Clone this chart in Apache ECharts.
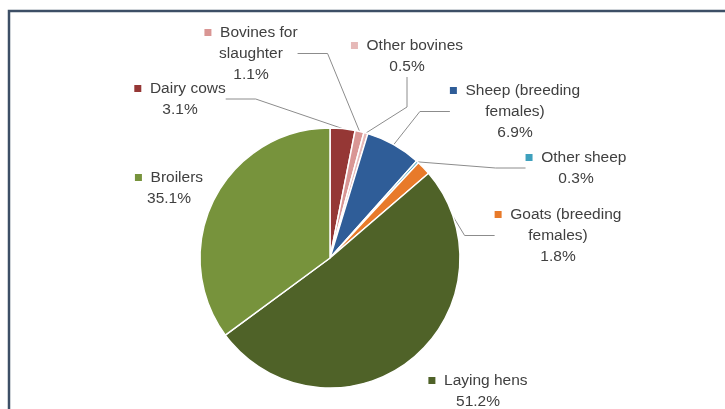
<!DOCTYPE html>
<html>
<head>
<meta charset="utf-8">
<script src="https://cdn.jsdelivr.net/npm/echarts@6/dist/echarts.min.js"></script>
<style>
html,body{margin:0;padding:0;background:#fff;}
#chart{width:725px;height:409px;}
</style>
</head>
<body>
<div id="chart"></div>
<script>
const categories = ['Dairy cows', 'Bovines for\nslaughter', 'Other bovines', 'Sheep (breeding\nfemales)', 'Other sheep', 'Goats (breeding\nfemales)', 'Laying hens', 'Broilers'];
const values = [3.1, 1.1, 0.5, 6.9, 0.3, 1.8, 51.2, 35.1];
const colors = ['#953735', '#d99694', '#e6b9b8', '#2f5d98', '#3ea0bd', '#e87a2a', '#4f6228', '#77933c'];
const showLines = [true, true, true, true, true, true, false, false];
// label anchor positions (center of label block, top)
const labelPos = [[180, 78], [251, 22], [407, 35], [515, 80], [576, 147], [558, 204], [478, 370], [169, 167]];

const chart = echarts.init(document.getElementById('chart'));
const data = categories.map((c, i) => ({
  name: c,
  value: values[i],
  itemStyle: { color: colors[i] },
  labelLine: { show: showLines[i] },
  label: {
    rich: {
      sq: { width: 7, height: 7, backgroundColor: colors[i] }
    }
  }
}));

chart.setOption({
  animation: false,
  graphic: [{
    type: 'polyline',
    shape: { points: [[9, 420], [9, 11], [725, 11]] },
    style: { stroke: '#3d4f66', lineWidth: 2.5, fill: null }
  }],
  series: [{
    type: 'pie',
    center: [330, 258],
    radius: 130,
    startAngle: 90,
    clockwise: true,
    avoidLabelOverlap: false,
    itemStyle: { borderColor: '#fff', borderWidth: 1.5 },
    label: {
      show: true,
      fontFamily: 'Liberation Sans, Arial, sans-serif',
      fontSize: 15.5,
      lineHeight: 21,
      color: '#404040',
      align: 'center',
      formatter: p => '{sq|}  ' + p.name + '\n' + p.value.toFixed(1) + '%'
    },
    labelLine: {
      show: true,
      lineStyle: { color: '#8c8c8c', width: 1 }
    },
    labelLayout: function (params) {
      const pos = labelPos[params.dataIndex];
      return { x: pos[0], y: pos[1], align: 'center', verticalAlign: 'top' };
    },
    data: data
  }]
});
</script>
</body>
</html>
